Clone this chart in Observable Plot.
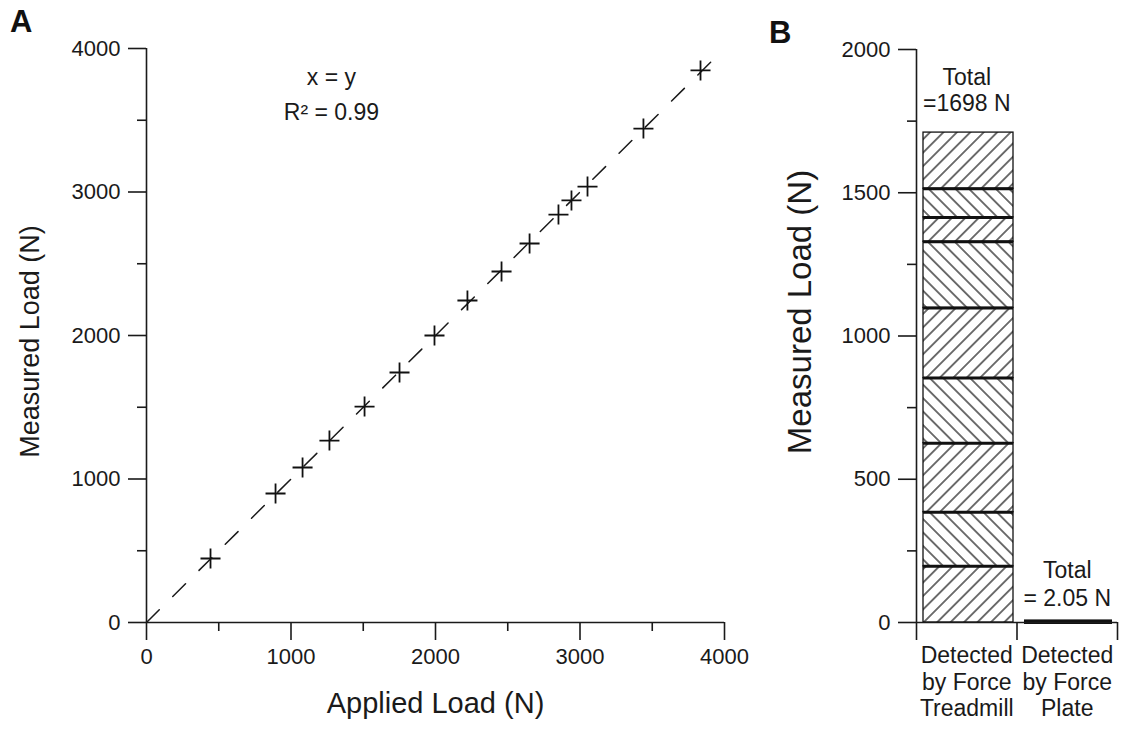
<!DOCTYPE html>
<html><head><meta charset="utf-8">
<script src="https://cdn.jsdelivr.net/npm/d3@7"></script>
<script src="https://cdn.jsdelivr.net/npm/@observablehq/plot@0.6"></script>
<style>
body{margin:0;background:#fff;font-family:"Liberation Sans",Arial,sans-serif;}
#wrap{position:relative;width:1121px;height:730px;overflow:hidden;background:#fff;}
.panel{position:absolute;top:0;}
.letter{position:absolute;font-weight:bold;font-size:31px;color:#111;line-height:1;}
</style></head><body>
<div id="wrap">
<div id="a" class="panel" style="left:0"></div>
<div id="b" class="panel" style="left:760px"></div>
<div class="letter" style="left:10px;top:6px">A</div>
<div class="letter" style="left:769px;top:17px">B</div>
</div>
<script>
// ---------- Panel A data ----------
const appliedLoad  = [443, 893, 1080, 1266, 1509, 1751, 1993, 2221, 2457, 2651, 2851, 2941, 3052, 3439, 3834];
const measuredLoad = [446, 899, 1080, 1268, 1505, 1742, 2000, 2244, 2446, 2641, 2843, 2941, 3038, 3442, 3847];
const identityLineEnds = [0, 3950];
const xTicksA = [0, 1000, 2000, 3000, 4000];
const xMinorTicksA = [500, 1500, 2500, 3500];
const yTicksA = [0, 1000, 2000, 3000, 4000];
const yMinorTicksA = [500, 1500, 2500, 3500];
const annotationA = ["x = y", "R\u00B2 = 0.99"];

// ---------- Panel B data ----------
const categories = ["Detected by Force Treadmill", "Detected by Force Plate"];
const categoryLabels = ["Detected\nby Force\nTreadmill", "Detected\nby Force\nPlate"];
const treadmillSegments = [196, 189, 241, 227, 245, 231, 85, 100, 196];
const plateTotal = [2.05];
const totalsText = [["Total", "=1698 N"], ["Total", "= 2.05 N"]];
const yTicksB = [0, 500, 1000, 1500, 2000];
const yMinorTicksB = [250, 750, 1250, 1750];

const font = '"Liberation Sans", Arial, sans-serif';
const ink = "#1a1a1a";
const plain = d => String(d);

const points = appliedLoad.map((x, i) => ({x, y: measuredLoad[i]}));

const plotA = Plot.plot({
  width: 760, height: 730,
  marginLeft: 146, marginRight: 36, marginTop: 48, marginBottom: 108,
  x: {domain: [0, 4000], axis: null},
  y: {domain: [0, 4000], axis: null},
  style: {fontFamily: font, fontSize: "22px", color: ink, background: "white", overflow: "visible"},
  marks: [
    Plot.ruleY([0], {x1: 0, x2: 4000, stroke: ink, strokeWidth: 1.6}),
    Plot.ruleX([0], {y1: 0, y2: 4000, stroke: ink, strokeWidth: 1.6}),
    Plot.axisX({ticks: xTicksA, tickSize: 18, tickPadding: 8, tickFormat: plain, strokeWidth: 1.6, fontSize: 22, label: null}),
    Plot.axisX({ticks: xMinorTicksA, tickSize: 9, tickFormat: () => "", strokeWidth: 1.6, label: null}),
    Plot.axisY({ticks: yTicksA, tickSize: 18, tickPadding: 8, tickFormat: plain, strokeWidth: 1.6, fontSize: 22, label: null}),
    Plot.axisY({ticks: yMinorTicksA, tickSize: 9, tickFormat: () => "", strokeWidth: 1.6, label: null}),
    Plot.line(identityLineEnds, {x: d => d, y: d => d, stroke: ink, strokeWidth: 1.5, strokeDasharray: "18,19"}),
    Plot.dot(points, {x: "x", y: "y", symbol: "plus", r: 6.5, stroke: "#111", strokeWidth: 1.8}),
    Plot.text([annotationA[0]], {x: 1280, y: 3800, fontSize: 23, fill: ink}),
    Plot.text([annotationA[1]], {x: 1280, y: 3550, fontSize: 23, fill: ink}),
    Plot.text(["Applied Load (N)"], {frameAnchor: "bottom", dy: 90, fontSize: 29, fill: ink}),
    Plot.text(["Measured Load (N)"], {frameAnchor: "left", textAnchor: "middle", dx: -116, dy: 6, rotate: -90, fontSize: 27, fill: ink})
  ]
});
document.getElementById("a").append(plotA);

const rows = treadmillSegments.map((v, i) => ({
  value: v,
  hatch: i % 2 === 0 ? "url(#hatchFwd)" : "url(#hatchBack)"
}));
const boundaries = d3.cumsum(treadmillSegments).slice(0, -1);
const treadmillTotal = d3.sum(treadmillSegments);

const plotB = Plot.plot({
  width: 361, height: 730,
  marginLeft: 156, marginRight: 4, marginTop: 49, marginBottom: 108,
  x: {domain: [0, categories.length], axis: null},
  y: {domain: [0, 2000], axis: null},
  color: {type: "identity"},
  style: {fontFamily: font, fontSize: "22px", color: ink, background: "white", overflow: "visible"},
  marks: [
    Plot.rectY(rows, {x1: 0, x2: 1, y: "value", fill: "hatch", stroke: "#111", strokeWidth: 1.3, insetLeft: 7, insetRight: 3.5}),
    Plot.ruleY(boundaries, {x1: 0, x2: 1, stroke: "#111", strokeWidth: 3, insetLeft: 7, insetRight: 3.5}),
    Plot.rectY(plateTotal, {x1: 1, x2: 2, y: d => d, fill: "#111", stroke: "#111", strokeWidth: 4, insetLeft: 9.5, insetRight: 7}),
    Plot.ruleY([0], {stroke: ink, strokeWidth: 1.6}),
    Plot.ruleX([0], {y1: 0, y2: 2000, stroke: ink, strokeWidth: 1.6}),
    Plot.axisX({ticks: d3.range(categories.length + 1), tickSize: 18, tickFormat: () => "", strokeWidth: 1.6, label: null}),
    Plot.axisX({ticks: categories.map((c, i) => i + 0.5), tickSize: 0, tickPadding: 21, tickFormat: (d) => categoryLabels[Math.floor(d)], fontSize: 23, lineHeight: 1.17, label: null}),
    Plot.axisY({ticks: yTicksB, tickSize: 18, tickPadding: 8, tickFormat: plain, strokeWidth: 1.6, fontSize: 22, label: null}),
    Plot.axisY({ticks: yMinorTicksB, tickSize: 9, tickFormat: () => "", strokeWidth: 1.6, label: null}),
    Plot.text([totalsText[0][0]], {x: 0.5, y: treadmillTotal + 192, fontSize: 23, fill: ink}),
    Plot.text([totalsText[0][1]], {x: 0.5, y: treadmillTotal + 100, fontSize: 23, fill: ink}),
    Plot.text([totalsText[1][0]], {x: 1.5, y: 182, fontSize: 23, fill: ink}),
    Plot.text([totalsText[1][1]], {x: 1.5, y: 84, fontSize: 23, fill: ink}),
    Plot.text(["Measured Load (N)"], {frameAnchor: "left", textAnchor: "middle", dx: -116, dy: -24, rotate: -90, fontSize: 33, fill: ink})
  ]
});
document.getElementById("b").append(plotB);

// hatch patterns
const svgB = plotB.tagName.toLowerCase() === "svg" ? plotB : plotB.querySelector("svg");
const defs = d3.select(svgB).insert("defs", ":first-child");
function hatch(id, angle) {
  const s = 9.5;
  const p = defs.append("pattern").attr("id", id).attr("patternUnits", "userSpaceOnUse")
    .attr("width", s).attr("height", s).attr("patternTransform", `rotate(${angle})`);
  p.append("rect").attr("width", s).attr("height", s).attr("fill", "white");
  p.append("line").attr("x1", s / 2).attr("x2", s / 2).attr("y1", -1).attr("y2", s + 1)
    .attr("stroke", "#111").attr("stroke-width", 1.2);
}
hatch("hatchFwd", 45);
hatch("hatchBack", -45);
</script>
</body></html>
